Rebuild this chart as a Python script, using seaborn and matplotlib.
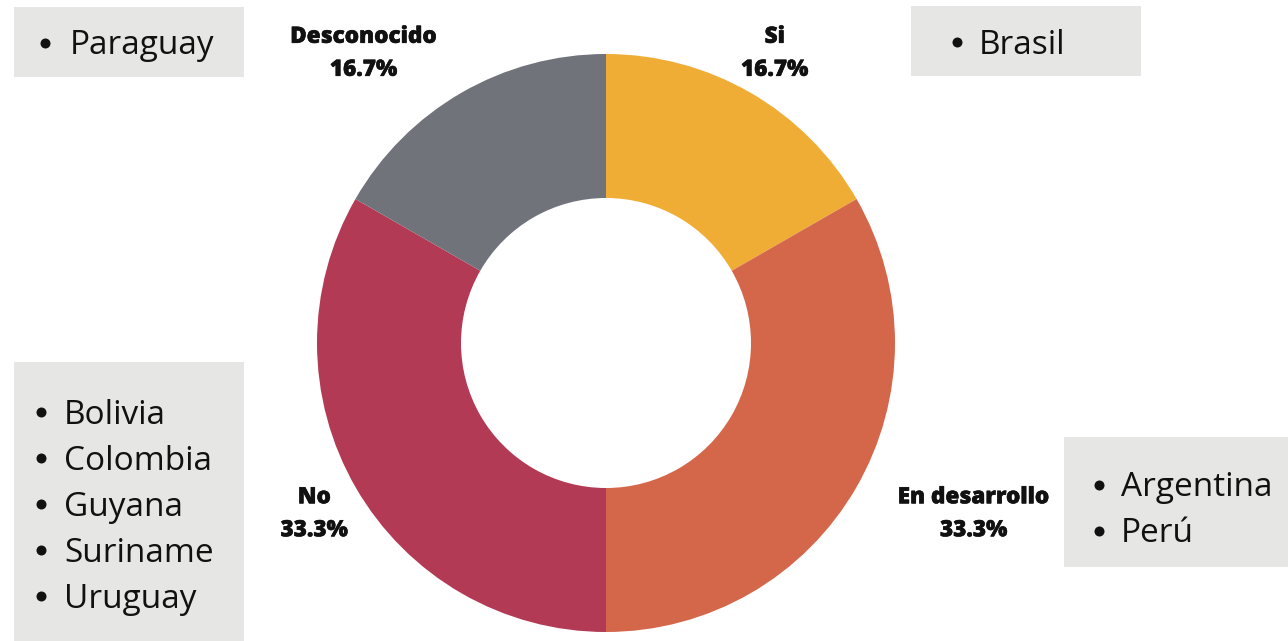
import numpy as np
import matplotlib
matplotlib.use("Agg")
import matplotlib.pyplot as plt
import matplotlib.patheffects as pe
import seaborn as sns
from matplotlib.patches import Rectangle

# Data
categories = ["Si", "En desarrollo", "No", "Desconocido"]
values = [16.7, 33.3, 33.3, 16.7]
colors = ["#F0AD36", "#D4674A", "#B33A55", "#71737B"]
label_align = ["center", "left", "center", "right"]

paraguay_list = ["Paraguay"]
brasil_list = ["Brasil"]
no_list = ["Bolivia", "Colombia", "Guyana", "Suriname", "Uruguay"]
desarrollo_list = ["Argentina", "Perú"]

sns.set_theme(style="white")
plt.rcParams['font.family'] = ['Open Sans', 'DejaVu Sans']

W, H = 1288, 641
fig = plt.figure(figsize=(W / 100, H / 100), dpi=100)
ax = fig.add_axes([0, 0, 1, 1])

# donut
cx, cy, r = 606, H - 343, 289
wedges, _ = ax.pie(values, colors=colors, startangle=90, counterclock=False,
                   center=(cx, cy), radius=r, frame=True,
                   wedgeprops=dict(width=144, linewidth=0))
ax.set_xlim(0, W)
ax.set_ylim(0, H)
ax.axis('off')

# labels (thin stroke thickens bold slightly, like extra bold)
for w, cat, val, ha in zip(wedges, categories, values, label_align):
    ang = np.deg2rad((w.theta1 + w.theta2) / 2)
    x = cx + 337 * np.cos(ang)
    y = cy + 337 * np.sin(ang) - 2
    ax.text(x, y, f"{cat}\n{val:.1f}%", ha=ha, va='center', multialignment='center',
            fontsize=16.2, fontweight=900, color='#111111', linespacing=1.5,
            path_effects=[pe.withStroke(linewidth=0.4, foreground='#111111')])


def draw_box(x0, y0, w, h, items, bx, tx, ty0, step):
    ax.add_patch(Rectangle((x0, H - y0 - h), w, h, facecolor='#E6E6E5', edgecolor='none'))
    for i, item in enumerate(items):
        yy = H - (ty0 + i * step)
        ax.plot(bx, yy, marker='o', markersize=7.2, color='#111111', markeredgewidth=0)
        ax.text(tx, yy - 3, item, ha='left', va='center', fontsize=24, color='#111111')


draw_box(14, 7, 230, 70, paraguay_list, 45, 70, 43, 46)
draw_box(911, 6, 230, 70, brasil_list, 957, 979, 42, 46)
draw_box(14, 362, 230, 279, no_list, 41, 64, 412, 46)
draw_box(1064, 437, 224, 130, desarrollo_list, 1099, 1121, 485, 46)

fig.savefig("out.png", dpi=100)
